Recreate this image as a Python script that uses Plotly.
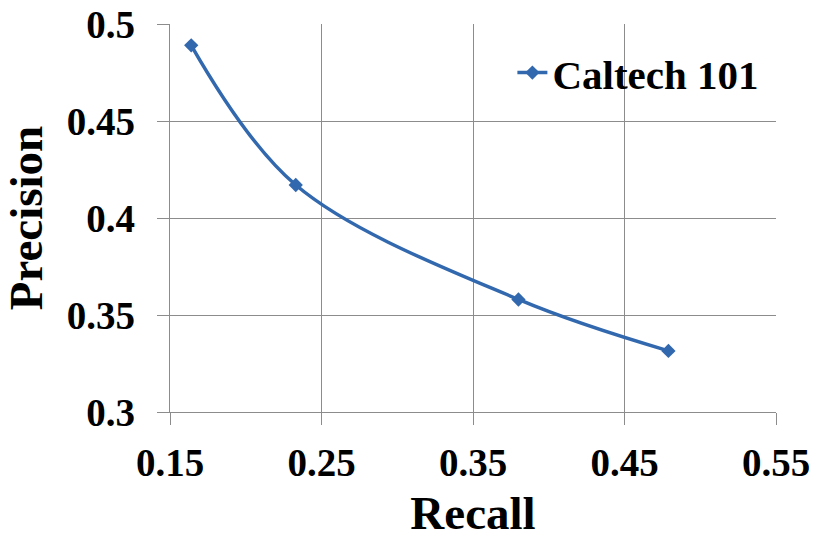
import plotly.graph_objects as go

recall = [0.164, 0.233, 0.380, 0.479]
precision = [0.489, 0.417, 0.358, 0.3315]
series_name = "Caltech 101"

x_tickvals = [0.15, 0.25, 0.35, 0.45, 0.55]
x_ticktext = ["0.15", "0.25", "0.35", "0.45", "0.55"]
y_tickvals = [0.3, 0.35, 0.4, 0.45, 0.5]
y_ticktext = ["0.3", "0.35", "0.4", "0.45", "0.5"]

FONT = "Liberation Serif, Times New Roman, serif"
BLUE = "#3268AE"
GRID = "#8C8C8C"

fig = go.Figure()
fig.add_trace(go.Scatter(
    x=recall, y=precision, name=series_name,
    mode="lines+markers",
    line=dict(color=BLUE, width=3.5, shape="spline", smoothing=1.0),
    marker=dict(symbol="diamond", size=11, color=BLUE),
))

axis_common = dict(
    showgrid=True, gridcolor=GRID, gridwidth=1.3,
    showline=True, linecolor=GRID, linewidth=1.3,
    ticks="outside", ticklen=12, tickcolor=GRID, tickwidth=1.3,
    zeroline=False, mirror=False, automargin=False,
    tickfont=dict(family=FONT, size=39, color="black", weight="bold"),
)

fig.update_layout(
    width=815, height=539,
    margin=dict(l=170, r=39, t=24, b=127),
    paper_bgcolor="white", plot_bgcolor="white",
    showlegend=True,
    legend=dict(x=0.565, y=0.874, xanchor="left", yanchor="middle",
                font=dict(family=FONT, size=41, color="black", weight="bold"),
                bgcolor="rgba(0,0,0,0)", itemwidth=30),
    xaxis=dict(range=[0.15, 0.55], tickvals=x_tickvals, ticktext=x_ticktext,
               title=dict(text="Recall", standoff=22,
                          font=dict(family=FONT, size=47, color="black", weight="bold")),
               ticklabelstandoff=4,
               **axis_common),
    yaxis=dict(range=[0.3, 0.5], tickvals=y_tickvals, ticktext=y_ticktext,
               title=dict(text="Precision", standoff=14,
                          font=dict(family=FONT, size=47, color="black", weight="bold")),
               ticklabelstandoff=14,
               **axis_common),
)

fig.write_html("out.html")
